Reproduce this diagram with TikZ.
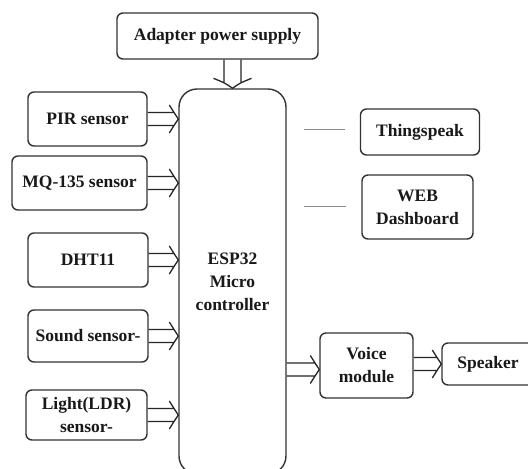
\documentclass[tikz,border=0pt]{standalone}
\usepackage{fontspec}
\setmainfont{Liberation Serif}
\usetikzlibrary{calc}
\newcommand\lblfont{\bfseries\fontsize{17.5}{23}\selectfont}
\tikzset{
  box/.style={draw=black!80, line width=1.4pt, rounded corners=6pt, align=center,
    font=\lblfont, text=black!90, inner sep=0pt, fill=white},
  blk/.style={draw=black!85, line width=1.3pt},
  thin/.style={draw=black!45, line width=1pt}
}
\newcommand\blockarr[2]{%
  \draw[blk] let \p1=#1, \p2=#2 in
    (\x1,\y1+6.5pt) -- (\x2-4pt,\y1+6.5pt)
    (\x1,\y1-6.5pt) -- (\x2-4pt,\y1-6.5pt)
    (\x2-9pt,\y1+14pt) .. controls (\x2-4pt,\y1+6pt) .. (\x2,\y1)
    .. controls (\x2-4pt,\y1-6pt) .. (\x2-9pt,\y1-14pt);}
\begin{document}
\begin{tikzpicture}[x=1pt,y=-1pt]
\useasboundingbox (0,0) rectangle (528,469);
\clip (0,0) rectangle (528,469);
\fill[white] (0,0) rectangle (528,469);
\node[box, minimum width=201pt, minimum height=46pt] (adp) at (217.5,36) {Adapter power supply};
\node[box, rounded corners=18pt, minimum width=107pt, minimum height=385pt] (esp) at (232.5,281.5) {ESP32\\Micro\\controller};
\node[box, minimum width=119pt, minimum height=54pt] (pir) at (87.5,119) {PIR sensor};
\node[box, minimum width=135pt, minimum height=54pt] (mq) at (79.5,183) {MQ-135 sensor};
\node[box, minimum width=120pt, minimum height=54pt] (dht) at (88,260) {DHT11};
\node[box, minimum width=120pt, minimum height=52pt] (snd) at (88,336) {Sound sensor-};
\node[box, minimum width=121pt, minimum height=50pt] (ldr) at (86.5,415) {Light(LDR)\\sensor-};
\node[box, minimum width=119pt, minimum height=46pt] (ts) at (420,132) {Thingspeak};
\node[box, minimum width=111pt, minimum height=64pt] (web) at (417.5,207) {WEB\\Dashboard};
\node[box, minimum width=93pt, minimum height=65pt] (voice) at (366.5,365.5) {Voice\\module};
\node[box, minimum width=96pt, minimum height=42pt] (spk) at (490,364) {\hspace*{-4pt}Speaker};
% input arrows
\blockarr{(pir.east)}{(pir.east -| esp.west)}
\blockarr{(mq.east)}{(mq.east -| esp.west)}
\blockarr{(dht.east)}{(dht.east -| esp.west)}
\blockarr{(snd.east)}{(snd.east -| esp.west)}
\blockarr{(ldr.east)}{(ldr.east -| esp.west)}
\blockarr{($(voice.west -| esp.east)+(0,4)$)}{($(voice.west)+(0,4)$)}
\blockarr{(spk.west -| voice.east)}{(spk.west)}
% power arrow
\draw[blk] let \p1=(adp.south -| esp.north), \p2=(esp.north) in
    (\x1-8.5pt,\y1) -- (\x1-8.5pt,\y2+5pt)
    (\x1+8.5pt,\y1) -- (\x1+8.5pt,\y2+5pt)
    (\x1-19pt,\y2+10pt) .. controls (\x1-7pt,\y2+5pt) .. (\x1,\y2)
    .. controls (\x1+7pt,\y2+5pt) .. (\x1+19pt,\y2+10pt);
% cloud links
\coordinate (t1) at ($(esp.east |- ts.west)+(17,-3)$);
\coordinate (t2) at ($(ts.west)+(-15,-3)$);
\draw[thin] (t1) -- (t2);
\coordinate (w1) at ($(esp.east |- web.west)+(17,-1)$);
\coordinate (w2) at ($(web.west)+(-15,-1)$);
\draw[thin] (w1) -- (w2);
\end{tikzpicture}
\end{document}
